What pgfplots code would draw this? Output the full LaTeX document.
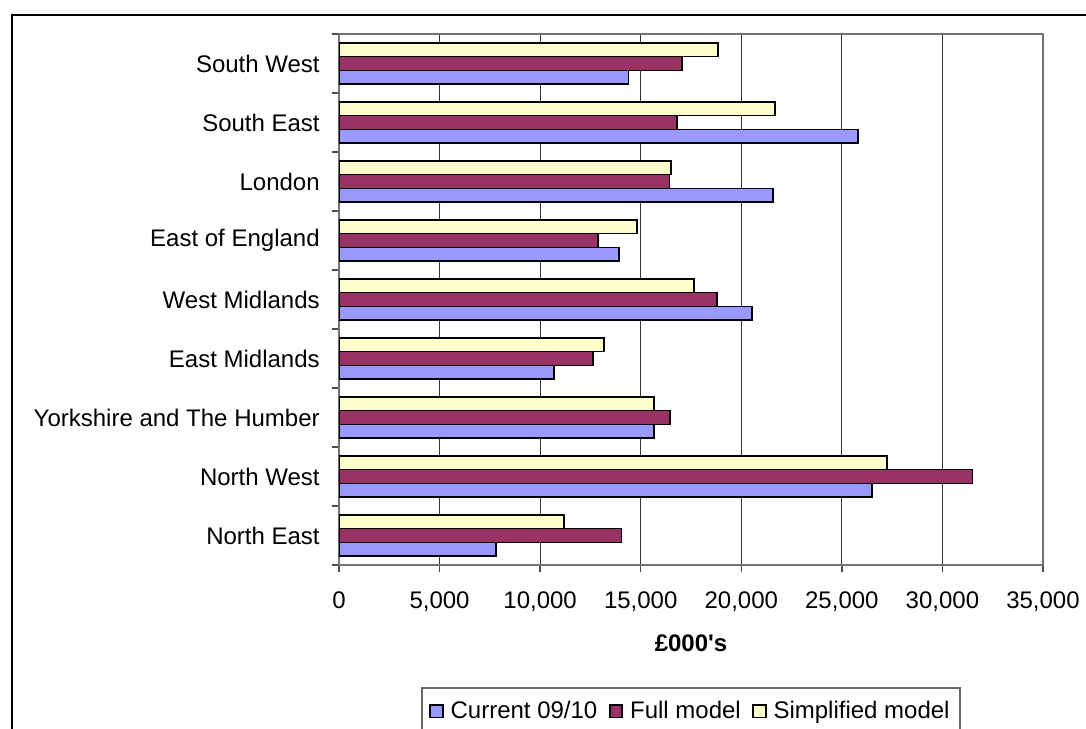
\documentclass[border=0pt]{standalone}
\usepackage{pgfplots}
\pgfplotsset{compat=1.18}
\usepackage{fontspec}
\setmainfont{Liberation Sans}
\definecolor{cblue}{RGB}{153,153,255}
\definecolor{cpurp}{RGB}{153,51,102}
\definecolor{cyel}{RGB}{255,255,204}
\pgfplotsset{sqlegend/.style={legend image code/.code={\draw[##1] (0pt,-2.5pt) rectangle (5pt,2.5pt);}}}
\begin{document}
\begin{tikzpicture}[font=\fontsize{9.6}{11.5}\selectfont]
\useasboundingbox (0pt,0pt) rectangle (434.4pt,-291.6pt);
\draw[line width=0.8pt] (4.6pt,-300pt) -- (4.6pt,-6pt) -- (440pt,-6pt);
\begin{axis}[
  at={(135.6pt,-226pt)}, anchor=south west,
  scale only axis, width=281.6pt, height=212.4pt,
  xbar, xmin=0, xmax=35000, ymin=-0.5, ymax=8.5,
  bar width=0.234,
  xtick={0,5000,...,35000},
  scaled x ticks=false,
  /pgf/number format/.cd, 1000 sep={,}, assume math mode=true, /pgfplots/.cd,
  ytick={0,...,8},
  yticklabels={North East, North West, Yorkshire and The Humber, East Midlands, West Midlands, East of England, London, South East, South West},
  minor ytick={-0.5,0.5,...,8.5},
  major y tick style={draw=none},
  minor y tick style={draw=black!70, line width=0.6pt},
  major x tick style={draw=black!70, line width=0.6pt},
  tick align=outside,
  major tick length=2.8pt,
  minor tick length=2.8pt,
  xtick pos=bottom, ytick pos=left,
  yticklabel style={xshift=-1.4pt},
  xticklabel style={yshift=-4.5pt},
  axis line style={draw=black!55, line width=0.6pt},
  xmajorgrids,
  major grid style={draw=black!80, line width=0.5pt},
  xlabel={\bfseries £000\textquotesingle s},
  xlabel style={at={(axis description cs:0.5,-0.147)}, anchor=center},
  legend columns=3,
  legend style={at={(axis description cs:0.5,-0.2298)}, anchor=north,
    draw=black!60, line width=0.6pt, inner xsep=3pt, inner ysep=4pt,
    /tikz/every odd column/.append style={column sep=1.6pt},
    /tikz/every even column/.append style={column sep=3.4pt},
    nodes={inner sep=1.2pt}},
]
\addplot[fill=cblue, draw=black, line width=0.7pt, bar shift=-0.234, sqlegend]
  coordinates {(7820,0) (26500,1) (15660,2) (10690,3) (20540,4) (13920,5) (21580,6) (25800,7) (14390,8)};
\addplot[fill=cpurp, draw=black, line width=0.7pt, bar shift=0, sqlegend]
  coordinates {(14040,0) (31490,1) (16460,2) (12630,3) (18800,4) (12880,5) (16430,6) (16790,7) (17070,8)};
\addplot[fill=cyel, draw=black, line width=0.7pt, bar shift=0.234, sqlegend]
  coordinates {(11170,0) (27230,1) (15660,2) (13180,3) (17650,4) (14830,5) (16510,6) (21680,7) (18830,8)};
\legend{Current 09/10, Full model, Simplified model}
\end{axis}
\end{tikzpicture}
\end{document}
